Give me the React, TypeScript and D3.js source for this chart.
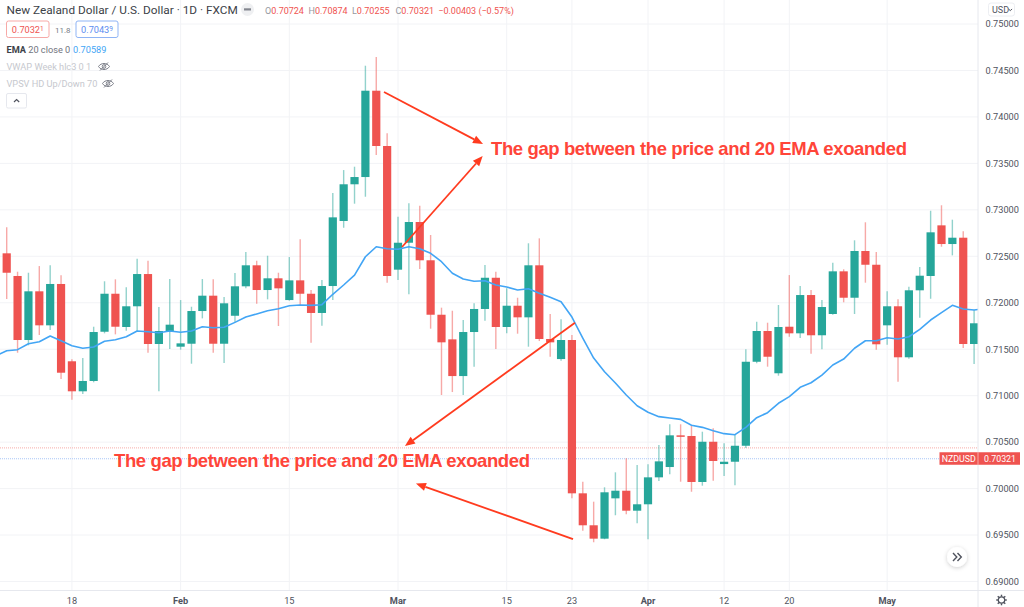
import { useRef, useEffect } from 'react';
import * as d3 from 'd3';

const opens = [0.72532,0.72288,0.71599,0.72123,0.71757,0.72202,0.7137,0.71047,0.71158,0.71688,0.72097,0.71739,0.71962,0.72309,0.71556,0.71693,0.71527,0.71559,0.71911,0.72076,0.71559,0.7186,0.72177,0.72403,0.72137,0.72263,0.72029,0.72241,0.72097,0.7189,0.7218,0.7288,0.73275,0.73353,0.74282,0.73687,0.72356,0.72646,0.72869,0.72457,0.71871,0.71606,0.71211,0.71685,0.71933,0.72269,0.71739,0.71968,0.71843,0.72403,0.7161,0.71394,0.71599,0.69949,0.69605,0.69461,0.69895,0.69977,0.69762,0.69831,0.70121,0.70232,0.70573,0.70566,0.70071,0.70504,0.70264,0.70289,0.70461,0.71365,0.71696,0.71241,0.71742,0.71671,0.72083,0.7165,0.71879,0.72338,0.72054,0.72557,0.72409,0.71757,0.71962,0.71413,0.72134,0.72288,0.72833,0.72632,0.727,0.71556];
const closes = [0.72323,0.71599,0.72123,0.71757,0.72202,0.71247,0.71047,0.71158,0.71685,0.72097,0.71742,0.71962,0.72309,0.71556,0.71696,0.71764,0.71563,0.71911,0.72076,0.71559,0.71994,0.72177,0.72403,0.72137,0.72263,0.72155,0.72241,0.72097,0.7189,0.7218,0.72919,0.73275,0.73353,0.74282,0.73687,0.72288,0.72646,0.72869,0.72457,0.71871,0.71574,0.71211,0.71685,0.71933,0.72269,0.71739,0.71968,0.71843,0.72403,0.7161,0.71574,0.71599,0.69949,0.69605,0.69461,0.6996,0.69977,0.69762,0.69831,0.70121,0.70293,0.70573,0.70566,0.70071,0.70504,0.70297,0.70289,0.70461,0.71365,0.71696,0.71419,0.71739,0.71671,0.72083,0.7165,0.71954,0.72338,0.72054,0.72557,0.72409,0.71553,0.71962,0.71413,0.72134,0.72291,0.72758,0.72632,0.727,0.71556,0.71779];
const highs = [0.72812,0.72334,0.72323,0.72395,0.72403,0.72295,0.71391,0.71405,0.71742,0.72231,0.72252,0.72166,0.72474,0.72452,0.71954,0.72255,0.72029,0.71957,0.72255,0.72252,0.72062,0.7232,0.72546,0.72452,0.72506,0.72323,0.72492,0.72683,0.72137,0.72245,0.73181,0.73428,0.73464,0.74551,0.74645,0.73823,0.72926,0.7307,0.73044,0.72729,0.71947,0.71914,0.71814,0.71994,0.72406,0.72334,0.72155,0.72054,0.7264,0.72693,0.71879,0.71822,0.71653,0.70074,0.69859,0.70014,0.70175,0.70326,0.70254,0.70261,0.70469,0.70692,0.70692,0.70681,0.70612,0.70649,0.70487,0.70577,0.71499,0.71796,0.71785,0.71976,0.72298,0.7218,0.72137,0.72029,0.72431,0.7236,0.72672,0.72866,0.72546,0.72123,0.72037,0.72173,0.72385,0.7299,0.73049,0.72894,0.72769,0.71922];
const lows = [0.7204,0.71462,0.71542,0.71653,0.71707,0.71179,0.70956,0.71018,0.71144,0.71671,0.7166,0.71699,0.71688,0.71462,0.71047,0.71502,0.71495,0.71344,0.71832,0.71462,0.71351,0.71789,0.72155,0.7199,0.72037,0.7175,0.72022,0.71972,0.7157,0.71753,0.72029,0.72807,0.73066,0.73141,0.7359,0.72216,0.72245,0.72091,0.72363,0.71721,0.71007,0.71039,0.71007,0.71312,0.71807,0.71502,0.71671,0.71667,0.71527,0.71588,0.71419,0.71376,0.69895,0.69547,0.69422,0.69454,0.69712,0.69723,0.69626,0.69454,0.70081,0.70154,0.70074,0.69966,0.70031,0.70085,0.70135,0.70035,0.70437,0.71348,0.71312,0.71215,0.71634,0.7162,0.71452,0.71499,0.71871,0.72005,0.71879,0.72216,0.71495,0.71548,0.7115,0.71398,0.71839,0.72043,0.72603,0.7251,0.71513,0.71341];
const ema = [0.71430,0.71484,0.71495,0.71559,0.71581,0.71642,0.71591,0.71538,0.7151,0.71524,0.71585,0.71602,0.71634,0.71696,0.71688,0.71677,0.71696,0.71682,0.71696,0.71742,0.71731,0.71736,0.71789,0.71846,0.71879,0.71914,0.71936,0.71968,0.71976,0.71972,0.71979,0.72091,0.72191,0.72298,0.72495,0.72603,0.72581,0.72575,0.72603,0.72581,0.72532,0.72442,0.72317,0.72255,0.72231,0.72237,0.72191,0.72169,0.72137,0.72151,0.72102,0.72058,0.72011,0.71846,0.7162,0.71405,0.71258,0.71136,0.71007,0.70892,0.70821,0.70774,0.70759,0.70745,0.70681,0.70659,0.70623,0.70591,0.7058,0.70659,0.70763,0.70817,0.70918,0.70989,0.7109,0.71139,0.71222,0.7133,0.71394,0.7151,0.71591,0.71591,0.71624,0.7161,0.71634,0.71714,0.71814,0.71893,0.71972,0.71933,0.71922,0.71935];

const priceTicks = [0.69,0.695,0.7,0.705,0.71,0.715,0.72,0.725,0.73,0.735,0.74,0.745,0.75];
const timeIndex = [6,16,26,36,46,52,59,66,72,81];
const timeLabels = ['18','Feb','15','Mar','15','23','Apr','12','20','May'];
const boldLabels = ['Feb','Mar','Apr','May'];

const lastPrice = 0.70321;
const bidLine = 0.70439;

const ohlcKeys = ['O','H','L','C'];
const ohlcValues = ['0.70724','0.70874','0.70255','0.70321'];

const arrowFromIndex = [34.71,36.37,52.28,52.1];
const arrowFromPrice = [0.74268,0.726,0.71785,0.69457];
const arrowToIndex = [43.82,43.79,36.64,37.65];
const arrowToPrice = [0.73708,0.73579,0.70458,0.70054];

const W = 1024;
const H = 607;
const plotRight = 978;
const plotBottom = 590.5;
const GREEN = '#26a69a';
const RED = '#ef5350';
const BLUE = '#42a5f5';
const UI_FONT = 'Roboto, "Noto Sans", sans-serif';
const NOTE = 'The gap between the price and 20 EMA exoanded';

const App = () => {
  const svgRef = useRef<SVGSVGElement>(null);

  useEffect(() => {
    const svg = d3.select(svgRef.current);
    svg.selectAll('*').remove();

    const x = d3.scaleLinear().domain([0, 89]).range([6.7, 974.1]);
    const y = d3.scaleLinear().domain([0.69, 0.75]).range([581.5, 24]);

    const defs = svg.append('defs');
    defs.append('clipPath').attr('id', 'plot').append('rect')
      .attr('width', plotRight).attr('height', plotBottom);
    const shadow = defs.append('filter').attr('id', 'btnShadow')
      .attr('x', '-50%').attr('y', '-50%').attr('width', '200%').attr('height', '200%');
    shadow.append('feDropShadow').attr('dx', 0).attr('dy', 1).attr('stdDeviation', 2)
      .attr('flood-color', '#000').attr('flood-opacity', 0.2);

    svg.append('rect').attr('width', W).attr('height', H).attr('fill', '#fff');

    // grid
    const grid = svg.append('g').attr('stroke', '#f2f3f6').attr('stroke-width', 1);
    grid.selectAll('.h').data(priceTicks).join('line')
      .attr('x1', 0).attr('x2', plotRight)
      .attr('y1', d => y(d)).attr('y2', d => y(d));
    grid.selectAll('.v').data(timeIndex).join('line')
      .attr('x1', d => x(d)).attr('x2', d => x(d))
      .attr('y1', 0).attr('y2', plotBottom);

    // last price / bid lines
    const levels = svg.append('g').attr('stroke-width', 1.2).attr('stroke-dasharray', '1 1');
    levels.append('line').attr('x1', 0).attr('x2', plotRight)
      .attr('y1', y(bidLine)).attr('y2', y(bidLine)).attr('stroke', '#f9bdbb');
    levels.append('line').attr('x1', 0).attr('x2', plotRight)
      .attr('y1', y(lastPrice)).attr('y2', y(lastPrice)).attr('stroke', '#a9c6f7');

    // candles
    const plot = svg.append('g').attr('clip-path', 'url(#plot)');
    const idx = d3.range(opens.length);
    const col = (i: number) => (closes[i] >= opens[i] ? GREEN : RED);

    plot.selectAll('.wick').data(idx).join('line')
      .attr('class', 'wick')
      .attr('x1', i => x(i)).attr('x2', i => x(i))
      .attr('y1', i => y(highs[i])).attr('y2', i => y(lows[i]))
      .attr('stroke', col).attr('stroke-opacity', 0.5).attr('stroke-width', 1.4);

    plot.selectAll('.body').data(idx).join('rect')
      .attr('class', 'body')
      .attr('x', i => x(i) - 4.1)
      .attr('width', 8.2)
      .attr('y', i => y(Math.max(opens[i], closes[i])))
      .attr('height', i => Math.max(1.5, Math.abs(y(opens[i]) - y(closes[i]))))
      .attr('fill', col);

    // EMA 20, first point sits one bar left of the screen edge
    const line = d3.line<number>().x((_, i) => x(i - 1)).y(d => y(d));
    plot.append('path').attr('d', line(ema)).attr('fill', 'none')
      .attr('stroke', BLUE).attr('stroke-width', 1.6).attr('stroke-linejoin', 'round');

    // price axis
    svg.append('line').attr('x1', plotRight).attr('x2', plotRight).attr('y1', 0).attr('y2', H)
      .attr('stroke', '#e6e8ee');
    svg.append('line').attr('x1', 0).attr('x2', W).attr('y1', plotBottom).attr('y2', plotBottom)
      .attr('stroke', '#e6e8ee');

    const axisText = svg.append('g').attr('font-family', UI_FONT).attr('font-size', 9.2).attr('fill', '#50535e');
    axisText.selectAll('.pt').data(priceTicks).join('text')
      .attr('x', 985.5).attr('y', d => y(d) + 3.3)
      .text(d => d3.format('.5f')(d));
    axisText.selectAll('.tt').data(timeIndex).join('text')
      .attr('x', d => x(d)).attr('y', 603.5).attr('text-anchor', 'middle')
      .attr('font-weight', (_, i) => (boldLabels.includes(timeLabels[i]) ? 700 : 400))
      .text((_, i) => timeLabels[i]);

    // NZDUSD tag
    const tag = svg.append('g').attr('font-family', UI_FONT).attr('font-size', 8.8).attr('fill', '#fff');
    tag.append('rect').attr('x', 939.5).attr('y', y(lastPrice) - 6.5).attr('width', 80.5).attr('height', 12.5)
      .attr('fill', RED).attr('stroke', 'none');
    tag.append('line').attr('x1', plotRight).attr('x2', plotRight)
      .attr('y1', y(lastPrice) - 6.5).attr('y2', y(lastPrice) + 6).attr('stroke', '#fff').attr('stroke-opacity', 0.5);
    tag.append('text').attr('x', 958.7).attr('y', y(lastPrice) + 3).attr('text-anchor', 'middle').text('NZDUSD');
    tag.append('text').attr('x', 1000).attr('y', y(lastPrice) + 3).attr('text-anchor', 'middle')
      .text(d3.format('.5f')(lastPrice));

    // USD button
    svg.append('rect').attr('x', 988.5).attr('y', 3).attr('width', 26).attr('height', 13).attr('rx', 2.5)
      .attr('fill', '#fff').attr('stroke', '#eceef2');
    svg.append('text').attr('x', 992).attr('y', 12.7).attr('font-family', UI_FONT).attr('font-size', 9)
      .attr('fill', '#50535e').text('USD');
    svg.append('path').attr('d', 'M1008.5 9l1.8 1.6 1.8-1.6').attr('fill', 'none').attr('stroke', '#50535e');

    // legend
    const lg = svg.append('g').attr('font-family', UI_FONT);
    lg.append('text').attr('x', 6.5).attr('y', 14).attr('font-size', 11.8).attr('fill', '#3c3f48')
      .text('New Zealand Dollar / U.S. Dollar · 1D · FXCM');
    lg.append('circle').attr('cx', 247.5).attr('cy', 9.5).attr('r', 6.5).attr('fill', '#eff0f2');
    lg.append('rect').attr('x', 244).attr('y', 8.3).attr('width', 7).attr('height', 2.2).attr('fill', '#83868f');

    ohlcKeys.forEach((k, i) => {
      const t = lg.append('text').attr('x', 265 + i * 43.5).attr('y', 13.5).attr('font-size', 9).attr('fill', RED);
      t.append('tspan').attr('fill', '#9598a1').text(k);
      t.append('tspan').text(ohlcValues[i]);
    });
    lg.append('text').attr('x', 438.3).attr('y', 13.5).attr('font-size', 9).attr('fill', RED).text('−0.00403 (−0.57%)');

    const pill = (px: number, w: number, stroke: string, fill: string, main: string, sup: string) => {
      lg.append('rect').attr('x', px).attr('y', 21).attr('width', w).attr('height', 16.5).attr('rx', 2)
        .attr('fill', '#fff').attr('stroke', stroke);
      const t = lg.append('text').attr('x', px + w / 2).attr('y', 32.8).attr('text-anchor', 'middle')
        .attr('font-size', 9.2).attr('fill', fill);
      t.append('tspan').text(main);
      t.append('tspan').attr('font-size', 6.5).attr('dy', -2.2).text(sup);
    };
    pill(6.5, 42.5, '#f7a9a7', RED, '0.7032', '1');
    lg.append('text').attr('x', 55).attr('y', 32.5).attr('font-size', 8).attr('fill', '#787b86').text('11.8');
    pill(76, 42, '#8fb4f5', '#5c8df0', '0.7043', '9');

    const emaRow = lg.append('text').attr('x', 6.5).attr('y', 53).attr('font-size', 9.2).attr('fill', '#70737d');
    emaRow.append('tspan').attr('fill', '#3c3f48').attr('font-weight', 700).text('EMA');
    emaRow.append('tspan').text(' 20 close 0');
    lg.append('text').attr('x', 73).attr('y', 53).attr('font-size', 9.2).attr('fill', BLUE).text('0.70589');

    lg.append('text').attr('x', 6.5).attr('y', 70).attr('font-size', 9.2).attr('fill', '#c6c8ce').text('VWAP Week hlc3 0 1');
    lg.append('text').attr('x', 6.5).attr('y', 87).attr('font-size', 9.2).attr('fill', '#c6c8ce').text('VPSV HD Up/Down 70');

    [[104, 66.5], [108, 83.5]].forEach(([cx, cy]) => {
      const eye = lg.append('g').attr('transform', `translate(${cx},${cy})`).attr('fill', 'none')
        .attr('stroke', '#7b7e88').attr('stroke-width', 1);
      eye.append('path').attr('d', 'M-5.5 0C-3 -4 3 -4 5.5 0C3 4 -3 4 -5.5 0Z');
      eye.append('circle').attr('r', 1.8);
      eye.append('path').attr('d', 'M-4 4L4 -4');
    });

    lg.append('rect').attr('x', 6.5).attr('y', 93.5).attr('width', 20).attr('height', 14.5).attr('rx', 1.5)
      .attr('fill', '#fff').attr('stroke', '#e6e8ee');
    lg.append('path').attr('d', 'M14 102l2.6-2.4 2.6 2.4').attr('fill', 'none').attr('stroke', '#50535e').attr('stroke-width', 1.2);

    // scroll button and gear
    svg.append('circle').attr('cx', 957).attr('cy', 557).attr('r', 10).attr('fill', '#fff').attr('filter', 'url(#btnShadow)');
    svg.append('path').attr('d', 'M953 553l3.8 4-3.8 4M957.5 553l3.8 4-3.8 4').attr('fill', 'none')
      .attr('stroke', '#50535e').attr('stroke-width', 1.4);

    const gear = svg.append('g').attr('transform', 'translate(1001.5,600)').attr('fill', 'none').attr('stroke', '#50535e');
    gear.append('circle').attr('r', 3.2).attr('stroke-width', 1.2);
    gear.selectAll('line').data(d3.range(8)).join('line')
      .attr('x1', d => 3.4 * Math.cos(d * Math.PI / 4)).attr('y1', d => 3.4 * Math.sin(d * Math.PI / 4))
      .attr('x2', d => 5.3 * Math.cos(d * Math.PI / 4)).attr('y2', d => 5.3 * Math.sin(d * Math.PI / 4))
      .attr('stroke-width', 1.4);

    // annotations
    const arrows = svg.append('g');
    arrowFromIndex.forEach((_, i) => {
      const x1 = x(arrowFromIndex[i]);
      const y1 = y(arrowFromPrice[i]);
      const x2 = x(arrowToIndex[i]);
      const y2 = y(arrowToPrice[i]);
      const a = Math.atan2(y2 - y1, x2 - x1);
      const len = 10;
      const hw = 4.2;
      const bx = x2 - len * Math.cos(a);
      const by = y2 - len * Math.sin(a);
      arrows.append('line').attr('x1', x1).attr('y1', y1).attr('x2', bx).attr('y2', by)
        .attr('stroke', '#ff3b1f').attr('stroke-width', 1.8);
      arrows.append('polygon')
        .attr('points', [
          [x2, y2],
          [bx - hw * Math.sin(a), by + hw * Math.cos(a)],
          [bx + hw * Math.sin(a), by - hw * Math.cos(a)],
        ].map(p => p.join(',')).join(' '))
        .attr('fill', '#ff3b1f');
    });

    const notes = svg.append('g').attr('font-family', '"Liberation Sans", Arial, sans-serif')
      .attr('font-weight', 700).attr('font-size', 18.5).attr('fill', '#ff4539');
    notes.append('text').attr('x', 491).attr('y', 154.5).attr('textLength', 416).attr('lengthAdjust', 'spacing').text(NOTE);
    notes.append('text').attr('x', 114).attr('y', 467).attr('textLength', 416).attr('lengthAdjust', 'spacing').text(NOTE);
  }, []);

  return (
    <svg
      ref={svgRef}
      width={W}
      height={H}
      style={{ position: 'absolute', top: 0, left: 0, display: 'block' }}
    />
  );
};

export default App;
